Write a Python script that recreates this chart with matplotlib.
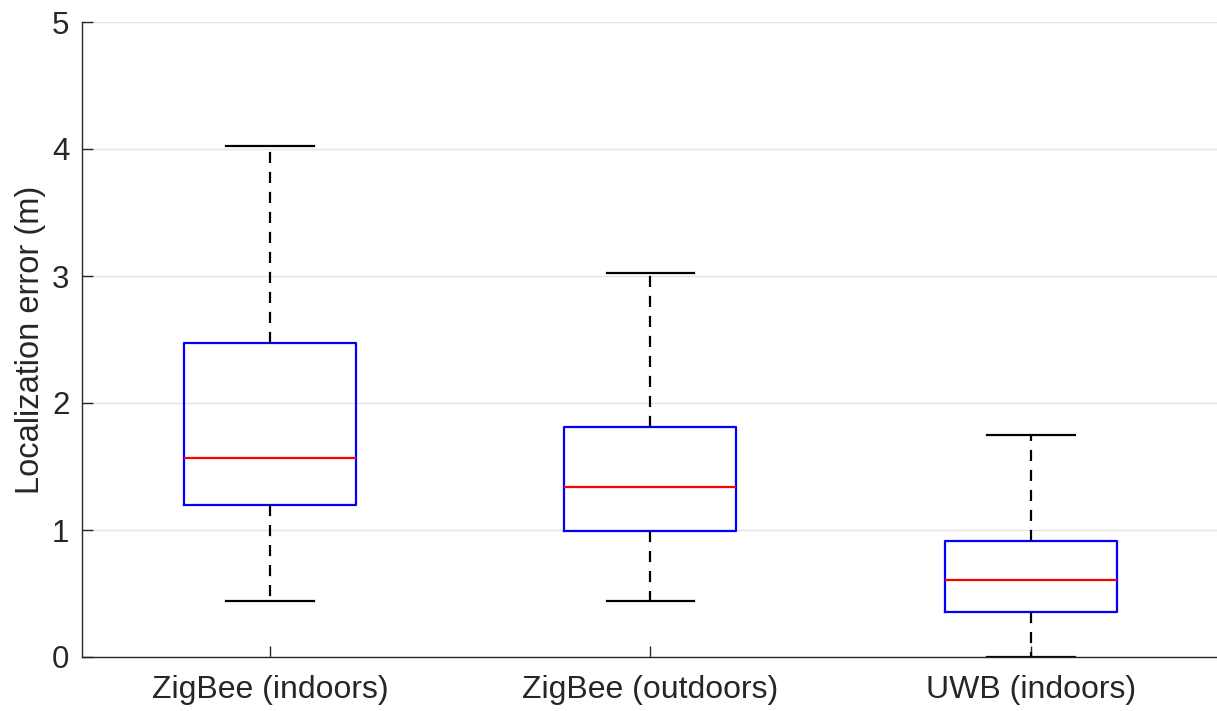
import matplotlib
matplotlib.use("Agg")
import matplotlib.pyplot as plt

plt.rcParams['font.family'] = ['Liberation Sans', 'DejaVu Sans']

categories = ["ZigBee (indoors)", "ZigBee (outdoors)", "UWB (indoors)"]
whisker_low = [0.44, 0.44, 0.0]
q1 = [1.20, 0.99, 0.355]
median = [1.565, 1.34, 0.605]
q3 = [2.47, 1.81, 0.91]
whisker_high = [4.02, 3.02, 1.75]
yticks = [0, 1, 2, 3, 4, 5]

fig = plt.figure(figsize=(12.17, 7.11), dpi=100)
ax = fig.add_axes([82/1217, 1-657/711, 1-82/1217, (657-22)/711])

stats = []
for i, c in enumerate(categories):
    stats.append(dict(label=c, whislo=whisker_low[i], q1=q1[i], med=median[i],
                      q3=q3[i], whishi=whisker_high[i], fliers=[]))

positions = list(range(1, len(categories) + 1))
ax.bxp(stats, positions=positions, widths=0.452, capwidths=0.23, showfliers=False,
       boxprops=dict(color='#0000ff', linewidth=1.6),
       medianprops=dict(color='#ff0000', linewidth=1.6),
       whiskerprops=dict(color='black', linewidth=1.6, linestyle=(0, (5, 4))),
       capprops=dict(color='black', linewidth=1.6))

ax.set_xlim(0.506, 3.489)
ax.set_ylim(0, 5)
ax.set_yticks(yticks)
ax.set_xticks(positions)
ax.set_xticklabels(categories)
ax.yaxis.grid(True, color='#e3e3e3', linewidth=1.0)
ax.set_axisbelow(True)
for s in ['top', 'right']:
    ax.spines[s].set_visible(False)
for s in ['left', 'bottom']:
    ax.spines[s].set_color('#262626')
    ax.spines[s].set_linewidth(1.0)
ax.tick_params(direction='in', length=8, width=1.0, colors='#262626', labelsize=22.5)
ax.tick_params(axis='x', pad=13, labelsize=23)
ax.tick_params(axis='y', pad=9)
ax.set_ylabel("Localization error (m)", fontsize=23.5, color='#262626', labelpad=4.5)

fig.savefig("out.png", dpi=100)
